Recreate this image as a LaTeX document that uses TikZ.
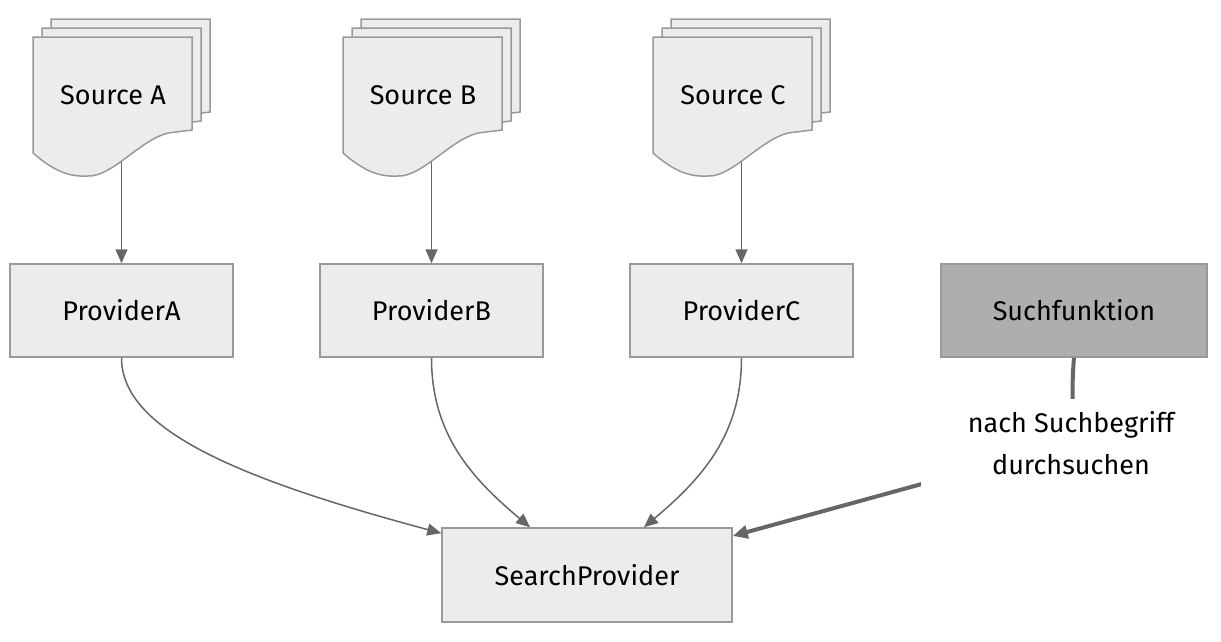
\documentclass[tikz,border=0pt]{standalone}
\usepackage{fontspec}
\setmainfont{Fira Sans}
\usetikzlibrary{arrows.meta}

\definecolor{boxfill}{HTML}{ECECEC}
\definecolor{boxline}{HTML}{999999}
\definecolor{edgecol}{HTML}{666666}
\definecolor{suchfill}{HTML}{AEAEAE}

\tikzset{
  txt/.style={font=\fontsize{27}{41.5}\selectfont},
  box/.style={txt, draw=boxline, fill=boxfill, line width=1.5pt,
    minimum width=223pt, minimum height=93pt, inner sep=0pt},
  sheet/.style={draw=boxline, fill=boxfill, line width=1.5pt},
  docspan/.style={minimum width=177pt, minimum height=144pt, inner sep=0pt},
  link/.style={draw=edgecol, line width=1.5pt, -{Triangle[length=14pt,width=12pt]}},
  thicklink/.style={draw=edgecol, line width=4pt, -{Triangle[length=15pt,width=13pt]}},
  edgelabel/.style={txt, fill=white, align=center, minimum width=300pt,
    minimum height=88pt, inner sep=0pt},
}

\begin{document}
\begin{tikzpicture}[x=1pt, y=1pt, >=Stealth]
    \useasboundingbox (0,0) rectangle (1221,-641);

    % Source documents, three sheets each
    \foreach \s/\dx in {A/0, B/310, C/620} {
      \begin{scope}[xshift=\dx pt]
        \foreach \o in {18, 9, 0}
          \draw [sheet, shift={(\o,\o)}] (33,-37) -- (192,-37) -- (192,-130) -- (168,-133)
            .. controls (140,-140) and (112,-177) .. (88,-176)
            .. controls (70,-177) and (55,-172) .. (33,-153) -- cycle;
        \node [docspan] (src\s) at (121.5,-90) {};
        \node [txt] (src\s text) at (113,-95) {Source \s};
      \end{scope}
    }

    % Providers and the search function
    \node [box] (provA) at (121.5,-310.5) {ProviderA};
    \node [box] (provB) at (431.5,-310.5) {ProviderB};
    \node [box] (provC) at (741.5,-310.5) {ProviderC};
    \node [box, fill=suchfill, minimum width=266pt] (such) at (1074,-310.5) {Suchfunktion};

    % Search provider at the bottom
    \node [box, minimum width=290pt, minimum height=94pt] (search) at (587,-575) {SearchProvider};

    % Sources feed the providers
    \foreach \s in {A, B, C}
      \draw [link] (src\s.south) -- (prov\s.north);

    % Providers feed the search provider
    \draw [link] (provA.south) to[out=-90, in=165, out looseness=0.5, in looseness=1.5] (search.164);
    \draw [link] (provB.south) to[out=-90, in=140] (search.140);
    \draw [link] (provC.south) to[out=-90, in=40] (search.40);

    % Thick link with its label on top
    \coordinate (mid) at (1071,-443);
    \draw [thicklink] (such.south) to[out=-95, in=85] (mid) -- (search.15);
    \node [edgelabel] (lbl) at (mid) {nach Suchbegriff\\durchsuchen};
\end{tikzpicture}
\end{document}
